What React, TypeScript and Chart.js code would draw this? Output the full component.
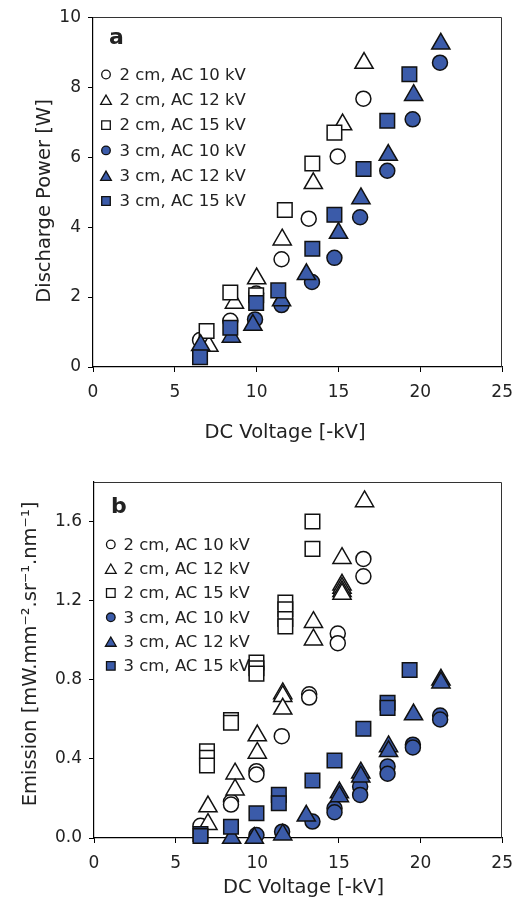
import React, { useEffect, useRef } from 'react';
import { Chart, registerables } from 'chart.js';

Chart.register(...registerables);

const FONT = '"DejaVu Sans", Verdana, sans-serif';
const BLUE = '#3B5BA9';
const TEXT = '#222222';

const seriesLabels = ['2 cm, AC 10 kV', '2 cm, AC 12 kV', '2 cm, AC 15 kV', '3 cm, AC 10 kV', '3 cm, AC 12 kV', '3 cm, AC 15 kV'];
const seriesShapes = ['circle', 'triangle', 'rect', 'circle', 'triangle', 'rect'];
const seriesFilled = [false, false, false, true, true, true];

const xTicks = [0, 5, 10, 15, 20, 25];
const aYTicks = [0, 2, 4, 6, 8, 10];
const bYTicks = [0, 0.4, 0.8, 1.2, 1.6];
const bYTickLabels = ['0.0', '0.4', '0.8', '1.2', '1.6'];

const xTitle = 'DC Voltage [-kV]';
const aYTitle = 'Discharge Power [W]';
const bYTitle = 'Emission [mW.mm\u207B\u00B2.sr\u207B\u00B9.nm\u207B\u00B9]';

// ---- panel a : discharge power ----
const a2cmAC10X = [6.54, 8.39, 9.97, 11.52, 13.18, 14.95, 16.52];
const a2cmAC10Y = [0.77, 1.32, 2.1, 3.08, 4.24, 6.02, 7.67];
const a2cmAC12X = [7.08, 8.64, 10.0, 11.56, 13.46, 15.25, 16.56];
const a2cmAC12Y = [0.6, 1.83, 2.53, 3.64, 5.25, 6.93, 8.69];
const a2cmAC15X = [6.94, 8.39, 9.97, 11.72, 13.4, 14.75];
const a2cmAC15Y = [1.03, 2.13, 2.05, 4.49, 5.82, 6.7];
const a3cmAC10X = [9.9, 11.52, 13.38, 14.75, 16.32, 17.98, 19.53, 21.2];
const a3cmAC10Y = [1.36, 1.77, 2.43, 3.12, 4.28, 5.61, 7.08, 8.7];
const a3cmAC12X = [6.58, 8.45, 9.77, 11.52, 13.04, 15.0, 16.37, 18.04, 19.59, 21.25];
const a3cmAC12Y = [0.62, 0.86, 1.2, 1.9, 2.65, 3.83, 4.82, 6.06, 7.77, 9.24];
const a3cmAC15X = [6.54, 8.39, 9.97, 11.32, 13.4, 14.75, 16.53, 17.98, 19.33];
const a3cmAC15Y = [0.28, 1.12, 1.83, 2.19, 3.38, 4.35, 5.66, 7.04, 8.37];

// ---- panel b : emission ----
const b2cmAC10X = [6.52, 8.39, 8.39, 9.95, 9.95, 11.5, 13.18, 13.18, 14.93, 14.93, 16.5, 16.5];
const b2cmAC10Y = [0.062, 0.183, 0.169, 0.338, 0.321, 0.515, 0.727, 0.71, 1.034, 0.985, 1.411, 1.323];
const b2cmAC12X = [6.98, 6.98, 8.64, 8.64, 10.0, 10.0, 11.56, 11.56, 11.56, 13.44, 13.44, 15.19, 15.19, 15.19, 15.19, 15.19, 16.57];
const b2cmAC12Y = [0.159, 0.07, 0.325, 0.244, 0.518, 0.43, 0.731, 0.717, 0.653, 1.091, 1.003, 1.415, 1.28, 1.264, 1.247, 1.234, 1.702];
const b2cmAC15X = [6.92, 6.92, 6.92, 8.39, 8.39, 9.95, 9.95, 9.95, 11.72, 11.72, 11.72, 11.72, 13.38, 13.38];
const b2cmAC15Y = [0.439, 0.406, 0.367, 0.596, 0.583, 0.887, 0.858, 0.831, 1.191, 1.157, 1.107, 1.07, 1.6, 1.462];
const b3cmAC10X = [9.95, 11.52, 13.38, 14.73, 14.73, 16.3, 16.3, 17.98, 17.98, 19.53, 19.53, 21.2, 21.2];
const b3cmAC10Y = [0.015, 0.032, 0.083, 0.15, 0.13, 0.26, 0.218, 0.362, 0.325, 0.472, 0.458, 0.619, 0.599];
const b3cmAC12X = [8.43, 9.82, 11.56, 13.0, 15.03, 15.03, 16.34, 16.34, 18.04, 18.04, 19.57, 21.25, 21.25];
const b3cmAC12Y = [0.0, 0.0, 0.017, 0.112, 0.23, 0.21, 0.33, 0.31, 0.463, 0.438, 0.624, 0.8, 0.785];
const b3cmAC15X = [6.52, 6.52, 8.39, 9.95, 11.32, 11.32, 13.38, 14.73, 16.5, 17.98, 17.98, 19.33];
const b3cmAC15Y = [0.02, 0.01, 0.057, 0.125, 0.218, 0.176, 0.291, 0.392, 0.552, 0.684, 0.658, 0.849];

const radiusFor = (shape: string) => (shape === 'circle' ? 7.5 : shape === 'triangle' ? 10.5 : 10.3);

function makeDatasets(xs: number[][], ys: number[][]) {
  return xs.map((xArr, i) => ({
    label: seriesLabels[i],
    data: xArr.map((x, j) => ({ x, y: ys[i][j] })),
    pointStyle: seriesShapes[i],
    pointRadius: radiusFor(seriesShapes[i]),
    pointHoverRadius: radiusFor(seriesShapes[i]),
    pointBackgroundColor: seriesFilled[i] ? BLUE : '#ffffff',
    pointBorderColor: '#111111',
    pointBorderWidth: 1.5,
    showLine: false,
    order: xs.length - i,
    clip: false,
  }));
}

function drawMarker(ctx: CanvasRenderingContext2D, shape: string, filled: boolean, x: number, y: number) {
  ctx.save();
  ctx.beginPath();
  if (shape === 'circle') {
    ctx.arc(x, y, 4.3, 0, Math.PI * 2);
  } else if (shape === 'triangle') {
    const r = 6.2;
    const cy = y + 0.25 * r;
    ctx.moveTo(x, cy - r);
    ctx.lineTo(x + 0.866 * r, cy + 0.5 * r);
    ctx.lineTo(x - 0.866 * r, cy + 0.5 * r);
    ctx.closePath();
  } else {
    ctx.rect(x - 4.3, y - 4.3, 8.6, 8.6);
  }
  ctx.fillStyle = filled ? BLUE : '#ffffff';
  ctx.fill();
  ctx.lineWidth = 1.3;
  ctx.strokeStyle = '#111111';
  ctx.stroke();
  ctx.restore();
}

type Panel = {
  height: number;
  area: { left: number; top: number; right: number; bottom: number };
  yMax: number;
  yTicks: number[];
  yLabel: (v: number) => string;
  xs: number[][];
  ys: number[][];
  xTitlePos: { x: number; y: number };
  yTitle: string;
  yTitlePos: { x: number; y: number };
  letter: string;
  letterPos: { x: number; y: number };
  legend: { x: number; textX: number; y0: number; dy: number };
};

function ChartPanel({ p }: { p: Panel }) {
  const ref = useRef<HTMLCanvasElement | null>(null);
  useEffect(() => {
    if (!ref.current) return;
    const W = 523;
    const decor = {
      id: 'decor',
      beforeDatasetsDraw(chart: any) {
        const ctx = chart.ctx as CanvasRenderingContext2D;
        const a = chart.chartArea;
        ctx.save();
        ctx.strokeStyle = '#333333';
        ctx.lineWidth = 1;
        ctx.beginPath();
        const t = Math.round(a.top) + 0.5;
        const r = Math.round(a.right) - 0.5;
        ctx.moveTo(Math.round(a.left), t);
        ctx.lineTo(r, t);
        ctx.lineTo(r, Math.round(a.bottom));
        ctx.stroke();
        // legend
        ctx.fillStyle = TEXT;
        ctx.font = `16.5px ${FONT}`;
        ctx.textBaseline = 'middle';
        ctx.textAlign = 'left';
        seriesLabels.forEach((lab, i) => {
          const y = p.legend.y0 + i * p.legend.dy;
          drawMarker(ctx, seriesShapes[i], seriesFilled[i], p.legend.x, y);
          ctx.fillStyle = TEXT;
          ctx.fillText(lab, p.legend.textX, y + 1);
        });
        // panel letter
        ctx.font = `bold 22px ${FONT}`;
        ctx.textBaseline = 'alphabetic';
        ctx.fillText(p.letter, p.letterPos.x, p.letterPos.y);
        // axis titles
        ctx.font = `19.5px ${FONT}`;
        ctx.textAlign = 'center';
        ctx.fillText(xTitle, p.xTitlePos.x, p.xTitlePos.y);
        ctx.translate(p.yTitlePos.x, p.yTitlePos.y);
        ctx.rotate(-Math.PI / 2);
        ctx.fillText(p.yTitle, 0, 0);
        ctx.restore();
      },
    };
    const chart = new Chart(ref.current, {
      type: 'scatter',
      data: { datasets: makeDatasets(p.xs, p.ys) as any },
      options: {
        animation: false,
        responsive: false,
        devicePixelRatio: 1,
        events: [],
        layout: {
          padding: { top: p.area.top, right: W - p.area.right, left: 0, bottom: 0 },
        },
        plugins: { legend: { display: false }, tooltip: { enabled: false } },
        scales: {
          x: {
            type: 'linear',
            min: 0,
            max: 25,
            afterBuildTicks: (ax: any) => {
              ax.ticks = xTicks.map((v) => ({ value: v }));
            },
            afterFit: (ax: any) => {
              ax.height = p.height - p.area.bottom;
            },
            ticks: {
              font: { family: FONT, size: 17 },
              color: TEXT,
              padding: 10,
              maxRotation: 0,
              autoSkip: false,
              callback: (v: any) => String(v),
            },
            grid: { drawOnChartArea: false, drawTicks: true, tickLength: 5, color: '#000000', lineWidth: 1 },
            border: { display: true, color: '#000000', width: 1.2 },
          },
          y: {
            type: 'linear',
            min: 0,
            max: p.yMax,
            afterBuildTicks: (ax: any) => {
              ax.ticks = p.yTicks.map((v) => ({ value: v }));
            },
            afterFit: (ax: any) => {
              ax.width = p.area.left;
            },
            ticks: {
              font: { family: FONT, size: 17 },
              color: TEXT,
              padding: 7,
              autoSkip: false,
              callback: (v: any) => p.yLabel(Number(v)),
            },
            grid: { drawOnChartArea: false, drawTicks: true, tickLength: 5, color: '#000000', lineWidth: 1 },
            border: { display: true, color: '#000000', width: 1.2 },
          },
        },
      } as any,
      plugins: [decor],
    });
    return () => chart.destroy();
  }, [p]);
  return <canvas ref={ref} width={523} height={p.height} style={{ display: 'block', width: 523, height: p.height }} />;
}

const panelA: Panel = {
  height: 455,
  area: { left: 93, top: 16, right: 506, bottom: 367 },
  yMax: 10,
  yTicks: aYTicks,
  yLabel: (v) => String(v),
  xs: [a2cmAC10X, a2cmAC12X, a2cmAC15X, a3cmAC10X, a3cmAC12X, a3cmAC15X],
  ys: [a2cmAC10Y, a2cmAC12Y, a2cmAC15Y, a3cmAC10Y, a3cmAC12Y, a3cmAC15Y],
  xTitlePos: { x: 285, y: 438 },
  yTitle: aYTitle,
  yTitlePos: { x: 50, y: 201 },
  letter: 'a',
  letterPos: { x: 109, y: 44 },
  legend: { x: 106, textX: 119.5, y0: 74.5, dy: 25.3 },
};

const panelB: Panel = {
  height: 454,
  area: { left: 94, top: 27, right: 507, bottom: 383 },
  yMax: 1.8,
  yTicks: bYTicks,
  yLabel: (v) => {
    const i = bYTicks.findIndex((t) => Math.abs(t - v) < 1e-6);
    return i >= 0 ? bYTickLabels[i] : '';
  },
  xs: [b2cmAC10X, b2cmAC12X, b2cmAC15X, b3cmAC10X, b3cmAC12X, b3cmAC15X],
  ys: [b2cmAC10Y, b2cmAC12Y, b2cmAC15Y, b3cmAC10Y, b3cmAC12Y, b3cmAC15Y],
  xTitlePos: { x: 303.5, y: 438.3 },
  yTitle: bYTitle,
  yTitlePos: { x: 36, y: 199 },
  letter: 'b',
  letterPos: { x: 111, y: 57.7 },
  legend: { x: 110.8, textX: 123.5, y0: 89.4, dy: 24.3 },
};

export default function App() {
  return (
    <div style={{ position: 'absolute', left: 0, top: 0, width: 523, height: 909, background: '#ffffff' }}>
      <ChartPanel p={panelA} />
      <ChartPanel p={panelB} />
    </div>
  );
}
